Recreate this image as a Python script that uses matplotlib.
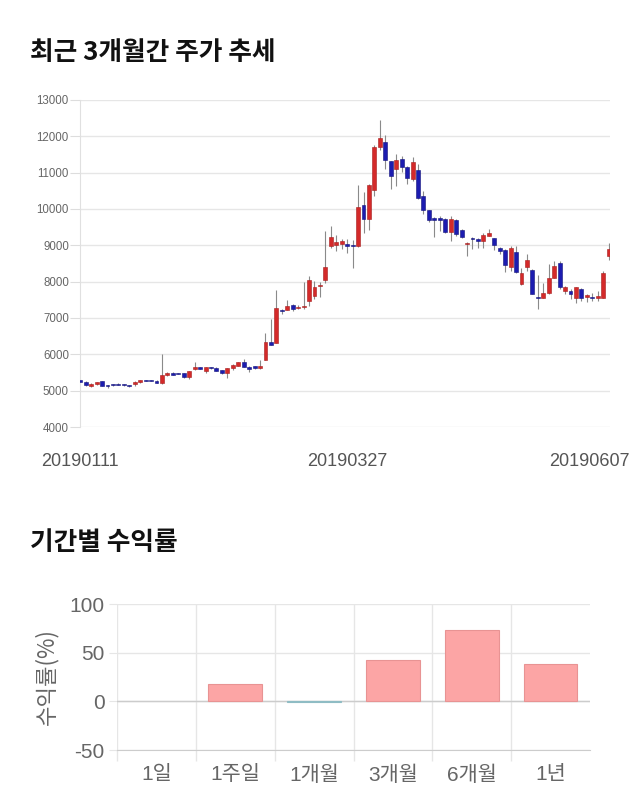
import numpy as np
import matplotlib
matplotlib.use("Agg")
import matplotlib.pyplot as plt
import matplotlib.transforms as mtransforms

# ---------------- data ----------------
opens = [5280, 5230, 5120, 5170, 5260, 5150, 5170, 5190, 5170, 5150,
         5180, 5230, 5290, 5280, 5270, 5210, 5420, 5490, 5470, 5480,
         5370, 5600, 5630, 5550, 5640, 5630, 5570, 5480, 5620, 5690,
         5780, 5630, 5670, 5620, 5850, 6350, 6310, 7200, 7230, 7360,
         7280, 7290, 7480, 7610, 7870, 8040, 8970, 9020, 9030, 9030,
         8990, 8970, 10110, 9720, 10510, 11710, 11850, 11320, 11110, 11370,
         11160, 10820, 11070, 10360, 9960, 9740, 9740, 9720, 9370, 9690,
         9410, 9030, 9210, 9170, 9120, 9270, 9190, 8940, 8880, 8410,
         8810, 7930, 8400, 8320, 7590, 7560, 7680, 8110, 8500, 7750,
         7750, 7560, 7790, 7570, 7580, 7550, 7560, 8700]
highs = [5320, 5260, 5200, 5250, 5270, 5160, 5180, 5200, 5180, 5160,
         5260, 5290, 5300, 5290, 5280, 6000, 5500, 5500, 5480, 5490,
         5550, 5800, 5640, 5660, 5650, 5650, 5580, 5630, 5730, 5790,
         5880, 5670, 5690, 5840, 6580, 6970, 7780, 7260, 7500, 7380,
         7350, 7980, 8160, 8010, 7980, 9400, 9520, 9290, 9170, 9170,
         9150, 10650, 10480, 10700, 11750, 12460, 12050, 11330, 11500, 11450,
         11170, 11420, 11250, 10500, 9980, 9770, 9800, 9750, 9800, 9730,
         9450, 9100, 9240, 9190, 9350, 9440, 9210, 8960, 8900, 8980,
         8980, 8380, 8750, 8340, 8180, 7970, 8490, 8570, 8570, 7870,
         7800, 7850, 7830, 7650, 7700, 7730, 8290, 9060]
lows = [5230, 5140, 5100, 5160, 5130, 5070, 5140, 5150, 5140, 5100,
        5120, 5220, 5260, 5260, 5200, 5170, 5410, 5430, 5450, 5360,
        5330, 5560, 5610, 5480, 5610, 5530, 5470, 5350, 5580, 5680,
        5640, 5510, 5610, 5610, 5840, 6250, 6300, 7120, 7210, 7200,
        7250, 7250, 7340, 7520, 7580, 7970, 8920, 8850, 8890, 8780,
        8370, 8960, 9330, 9410, 10350, 11630, 11100, 10540, 10630, 11030,
        10700, 10770, 10270, 9870, 9640, 9240, 9390, 9340, 9120, 9250,
        9200, 8720, 8900, 8940, 8940, 9250, 8860, 8760, 8260, 8290,
        8250, 7900, 8290, 7650, 7250, 7540, 7660, 8090, 7800, 7660,
        7520, 7420, 7470, 7430, 7480, 7460, 7540, 8610]
closes = [5240, 5160, 5190, 5230, 5140, 5120, 5150, 5160, 5150, 5120,
          5250, 5280, 5270, 5270, 5210, 5420, 5490, 5440, 5460, 5370,
          5540, 5650, 5620, 5650, 5630, 5540, 5480, 5620, 5720, 5780,
          5650, 5620, 5620, 5680, 6350, 6260, 7270, 7190, 7320, 7250,
          7310, 7320, 8050, 7850, 7920, 8390, 9240, 9080, 9120, 8990,
          8980, 10060, 9720, 10650, 11710, 11950, 11360, 10920, 11360, 11160,
          10860, 11280, 10310, 9960, 9690, 9690, 9700, 9370, 9730, 9300,
          9230, 9070, 9170, 9120, 9280, 9350, 9000, 8850, 8470, 8930,
          8270, 8230, 8610, 7670, 7560, 7700, 8110, 8430, 7840, 7850,
          7650, 7840, 7560, 7630, 7540, 7610, 8250, 8900]
date_labels = ["20190111", "20190327", "20190607"]
date_label_idx = [0, 49, 97]
price_ticks = [4000, 5000, 6000, 7000, 8000, 9000, 10000, 11000, 12000, 13000]

periods = ["1일", "1주일", "1개월", "3개월", "6개월", "1년"]
returns = [0.0, 18.3, -0.4, 42.4, 73.1, 37.9]
return_ticks = [-50, 0, 50, 100]

# ---------------- style ----------------
KFONT = ["Liberation Sans", "Noto Sans CJK KR", "DejaVu Sans"]
plt.rcParams["font.family"] = KFONT

fig = plt.figure(figsize=(6.4, 8.1), dpi=100)

fig.text(30 / 640, 1 - 52 / 810, "최근 3개월간 주가 추세", fontsize=18.5, fontweight="bold",
         family=["Noto Sans CJK KR"], va="center", ha="left", color="#111111")
fig.text(30 / 640, 1 - 543 / 810, "기간별 수익률", fontsize=18.5, fontweight="bold",
         family=["Noto Sans CJK KR"], va="center", ha="left", color="#111111")

# ---------------- candlestick ----------------
ax1 = fig.add_axes([80 / 640, 1 - 427 / 810, 530 / 640, 327 / 810])
o = np.array(opens, float)
h = np.array(highs, float)
l = np.array(lows, float)
c = np.array(closes, float)
x = np.arange(len(o))
up = c >= o
face = np.where(up, "#d42a2a", "#1c1cb0")
edge = np.where(up, "#a51c1c", "#12127a")
minh = 30.0
bh = np.maximum(np.abs(c - o), minh)
mid = (o + c) / 2
bb = mid - bh / 2

ax1.vlines(x, l, h, color="#8a8a8a", lw=0.8, zorder=2)
ax1.bar(x, bh, bottom=bb, width=0.72, color=face, edgecolor=edge, linewidth=0.4, zorder=3)

ax1.set_xlim(-0.05, 97.25)
ax1.set_ylim(4000, 13000)
ax1.set_yticks(price_ticks)
ax1.set_yticklabels([str(t) for t in price_ticks])
ax1.tick_params(axis="y", length=7, color="#dddddd", labelsize=8.3, labelcolor="#666666", pad=1)
ax1.grid(axis="y", color="#e6e6e6", lw=1)
ax1.set_axisbelow(True)
for s in ["top", "right", "bottom"]:
    ax1.spines[s].set_visible(False)
ax1.spines["left"].set_color("#e0e0e0")
ax1.set_xticks(date_label_idx)
ax1.set_xticklabels(date_labels)
ax1.tick_params(axis="x", length=0, labelsize=13, labelcolor="#555555", pad=19)
lbls = ax1.get_xticklabels()
lbls[-1].set_transform(lbls[-1].get_transform() +
                       mtransforms.ScaledTranslation(-19 / 100, 0, fig.dpi_scale_trans))

# ---------------- returns bar chart ----------------
ax2 = fig.add_axes([117 / 640, 1 - 750 / 810, 473 / 640, 146 / 810])
xi = np.arange(len(periods))
r = np.array(returns)
bcol = np.where(r >= 0, "#fca5a5", "#a9cfd6")
becol = np.where(r >= 0, "#e89393", "#8fbcc4")
blw = np.where(r == 0, 0.0, 0.8)
ax2.bar(xi, r, width=0.68, color=bcol, edgecolor=becol, linewidth=blw, zorder=3)
ax2.set_xlim(-0.5, len(periods) - 0.5)
ax2.set_ylim(-50, 100)
ax2.set_yticks(return_ticks)
ax2.set_yticklabels([str(t) for t in return_ticks])
ax2.set_xticks(xi)
ax2.set_xticklabels(periods)
ax2.set_xticks(np.arange(-0.5, len(periods) - 0.5, 1.0), minor=True)
ax2.tick_params(axis="x", which="major", length=0, labelsize=15, labelcolor="#666666", pad=11)
ax2.tick_params(axis="x", which="minor", length=8, color="#e6e6e6", width=1)
ax2.tick_params(axis="y", length=6, color="#e6e6e6", labelsize=15, labelcolor="#666666", pad=3)
ax2.grid(axis="y", color="#e6e6e6", lw=1, zorder=0)
ax2.grid(axis="x", which="minor", color="#e6e6e6", lw=1, zorder=0)
ax2.axhline(0, color="#cccccc", lw=1, zorder=2)
for s in ["top", "right", "left"]:
    ax2.spines[s].set_visible(False)
ax2.spines["bottom"].set_color("#cccccc")
ax2.set_axisbelow(True)
ax2.set_ylabel("수익률(%)", fontsize=16, color="#666666", labelpad=8,
               family=["Noto Sans CJK KR", "DejaVu Sans"])

fig.savefig("out.png", dpi=100, facecolor="white")
